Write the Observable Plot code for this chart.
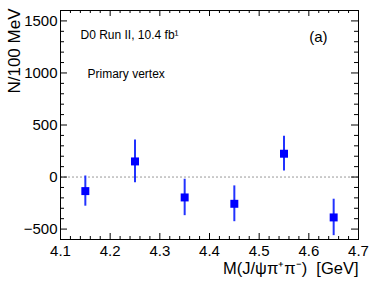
<!DOCTYPE html>
<html><head><meta charset="utf-8">
<script src="https://cdn.jsdelivr.net/npm/d3@7"></script>
<script src="https://cdn.jsdelivr.net/npm/@observablehq/plot@0.6"></script>
<style>body{margin:0;background:#fff} svg{font-family:"Liberation Sans",Arial,sans-serif}</style>
</head><body><div id="chart"></div>
<script>
const mass = [4.15, 4.25, 4.35, 4.45, 4.55, 4.65];
const counts = [-135, 150, -196, -257, 224, -388];
const errors = [145, 205, 175, 172, 167, 175];
const xTicks = [4.1, 4.2, 4.3, 4.4, 4.5, 4.6, 4.7];
const yTicks = [-500, 0, 500, 1000, 1500];
const xMinor = d3.range(0, 31).map(i => 4.1 + i * 0.02).filter(v => Math.abs(v * 10 - Math.round(v * 10)) > 1e-6);
const yMinor = d3.range(-600, 1601, 100).filter(v => v % 500 !== 0);

const data = mass.map((m, i) => ({m, n: counts[i], lo: counts[i] - errors[i], hi: counts[i] + errors[i]}));

const W = 373, H = 286, mL = 60, mR = 15, mT = 10, mB = 47;
const xDom = [4.1, 4.7], yDom = [-600, 1600];
const kx = (xDom[1] - xDom[0]) / (W - mL - mR);
const ky = (yDom[1] - yDom[0]) / (H - mT - mB);
const blue = "#0000ff";

const chart = Plot.plot({
  width: W, height: H,
  marginLeft: mL, marginRight: mR, marginTop: mT, marginBottom: mB,
  style: {fontFamily: "Liberation Sans, Arial, sans-serif", overflow: "visible", background: "#fff"},
  x: {domain: xDom},
  y: {domain: yDom},
  marks: [
    Plot.ruleY([0], {stroke: "#999", strokeDasharray: "2,2", strokeWidth: 1}),
    // y ticks left/right
    Plot.ruleY(yTicks, {y: d => d, x1: xDom[0], x2: xDom[0] + 7 * kx, stroke: "black"}),
    Plot.ruleY(yMinor, {y: d => d, x1: xDom[0], x2: xDom[0] + 4 * kx, stroke: "black"}),
    Plot.ruleY(yTicks, {y: d => d, x1: xDom[1] - 7 * kx, x2: xDom[1], stroke: "black"}),
    Plot.ruleY(yMinor, {y: d => d, x1: xDom[1] - 4 * kx, x2: xDom[1], stroke: "black"}),
    // x ticks bottom/top
    Plot.ruleX(xTicks, {x: d => d, y1: yDom[0], y2: yDom[0] + 6 * ky, stroke: "black"}),
    Plot.ruleX(xMinor, {x: d => d, y1: yDom[0], y2: yDom[0] + 3 * ky, stroke: "black"}),
    Plot.ruleX(xTicks, {x: d => d, y1: yDom[1] - 6 * ky, y2: yDom[1], stroke: "black"}),
    Plot.ruleX(xMinor, {x: d => d, y1: yDom[1] - 3 * ky, y2: yDom[1], stroke: "black"}),
    Plot.axisX(xTicks, {tickSize: 0, tickPadding: 6, tickFormat: d3.format(".1f"), fontSize: 15, fill: "black", label: null}),
    Plot.axisY(yTicks, {tickSize: 0, tickPadding: 3, tickFormat: d3.format("d"), fontSize: 15, fill: "black", label: null}),
    Plot.frame({stroke: "black"}),
    Plot.ruleX(data, {x: "m", y1: "lo", y2: "hi", stroke: "#2233ff", strokeWidth: 2}),
    Plot.dot(data, {x: "m", y: "n", symbol: "square", r: 4.5, fill: blue, stroke: "none"}),
    Plot.text(["N/100 MeV"], {frameAnchor: "top-left", rotate: -90, textAnchor: "end", lineAnchor: "bottom", dx: -40.5, dy: -2, fontSize: 17, fill: "black"}),
    Plot.text(["M(J/ψπ⁺π⁻)  [GeV]"], {frameAnchor: "bottom-right", textAnchor: "end", lineAnchor: "bottom", dy: 34, fontSize: 16.5, fill: "black"}),
    Plot.text(["D0 Run II, 10.4 fb¹"], {frameAnchor: "top-left", textAnchor: "start", lineAnchor: "bottom", dx: 20, dy: 28, fontSize: 12, fill: "black"}),
    Plot.text(["Primary vertex"], {frameAnchor: "top-left", textAnchor: "start", lineAnchor: "bottom", dx: 27, dy: 67, fontSize: 12, fill: "black"}),
    Plot.text(["(a)"], {frameAnchor: "top-right", textAnchor: "end", lineAnchor: "bottom", dx: -31, dy: 31, fontSize: 15, fill: "black"})
  ]
});
document.getElementById("chart").appendChild(chart);
</script>
</body></html>
